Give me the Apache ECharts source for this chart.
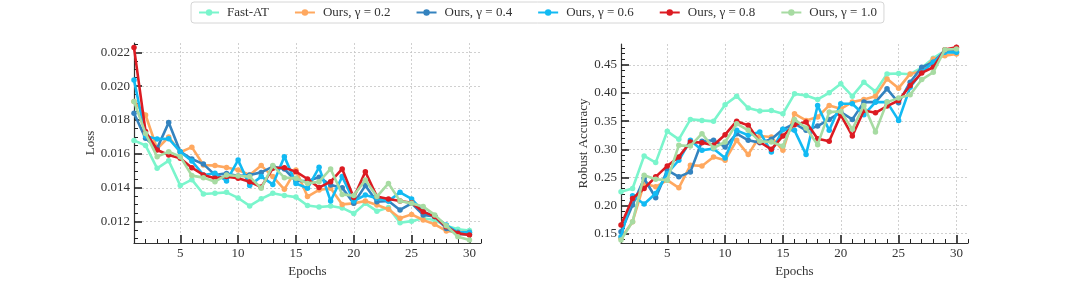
<!DOCTYPE html>
<html><head><meta charset="utf-8">
<script src="https://cdn.jsdelivr.net/npm/echarts@6/dist/echarts.min.js"></script>
<style>html,body{margin:0;padding:0;background:#fff}#c{width:1075px;height:283px}</style>
</head><body><div id="c"></div>
<script>
const epochs = [1,2,3,4,5,6,7,8,9,10,11,12,13,14,15,16,17,18,19,20,21,22,23,24,25,26,27,28,29,30];
const seriesNames = ['Fast-AT','Ours, γ = 0.2','Ours, γ = 0.4','Ours, γ = 0.6','Ours, γ = 0.8','Ours, γ = 1.0'];
const seriesColors = ['#7af5cc','#ffa85f','#3483bf','#12baf3','#dc1b22','#a7dba2'];

const lossFastAT = [0.0168,0.0165,0.01515,0.0156,0.01413,0.01448,0.01363,0.01368,0.01373,0.0134,0.01293,0.01335,0.01368,0.01355,0.01345,0.01295,0.01287,0.01292,0.01281,0.01248,0.01308,0.01262,0.01283,0.01194,0.01203,0.0122,0.0121,0.01176,0.01155,0.01148];
const lossG02 = [0.0191,0.0183,0.0163,0.0170,0.0161,0.0164,0.01535,0.01531,0.0152,0.01505,0.01476,0.01531,0.01466,0.01391,0.01505,0.01348,0.01387,0.01397,0.01302,0.01308,0.01322,0.01298,0.01273,0.0122,0.01243,0.0121,0.01184,0.01145,0.01138,0.01138];
const lossG04 = [0.0184,0.01692,0.01633,0.01785,0.01613,0.0157,0.0154,0.01476,0.01485,0.0147,0.01476,0.01491,0.01525,0.01511,0.0144,0.0144,0.01462,0.01417,0.0140,0.01308,0.01413,0.01318,0.01322,0.01269,0.01308,0.0124,0.0123,0.0116,0.01127,0.01125];
const lossG06 = [0.02037,0.01706,0.01688,0.0169,0.01613,0.01558,0.01476,0.01486,0.0144,0.01564,0.01413,0.01466,0.0142,0.01584,0.01426,0.01397,0.01521,0.01322,0.01466,0.01322,0.01357,0.01338,0.01322,0.01373,0.01334,0.01259,0.0123,0.0118,0.01137,0.01137];
const lossG08 = [0.02228,0.01732,0.01623,0.01594,0.01574,0.01519,0.01476,0.01456,0.01466,0.01456,0.01436,0.01405,0.01515,0.01519,0.01495,0.01452,0.01401,0.01436,0.01511,0.01342,0.01495,0.01348,0.01334,0.01322,0.01312,0.01259,0.0123,0.0117,0.01131,0.01121];
const lossG10 = [0.0191,0.0172,0.01584,0.01613,0.01584,0.01472,0.0146,0.01436,0.01476,0.0147,0.01466,0.01397,0.01531,0.0146,0.01456,0.01426,0.01436,0.01511,0.01361,0.01354,0.01446,0.01348,0.01426,0.01322,0.01308,0.01289,0.0124,0.01176,0.01111,0.01092];

const accFastAT = [0.2245,0.2304,0.2883,0.2764,0.332,0.3178,0.3532,0.3514,0.3497,0.3792,0.3945,0.3733,0.368,0.3691,0.3632,0.3986,0.3957,0.3886,0.4004,0.4164,0.3945,0.4193,0.4028,0.4341,0.4347,0.4335,0.445,0.462,0.475,0.472];
const accG02 = [0.142,0.1714,0.2393,0.2334,0.2452,0.2316,0.2717,0.2705,0.2865,0.2806,0.316,0.2906,0.3237,0.3219,0.2983,0.3632,0.3514,0.3573,0.378,0.3721,0.3839,0.3886,0.3945,0.4252,0.4087,0.4341,0.4382,0.4606,0.4665,0.4695];
const accG04 = [0.1537,0.2009,0.2481,0.2139,0.2629,0.2511,0.2599,0.3142,0.316,0.3042,0.3278,0.316,0.3119,0.3178,0.3355,0.3455,0.3337,0.3414,0.3532,0.3662,0.3532,0.3839,0.3839,0.4075,0.3827,0.4193,0.4459,0.4547,0.4754,0.4736];
const accG06 = [0.1448,0.2174,0.2027,0.2215,0.257,0.2806,0.316,0.2983,0.3012,0.2847,0.3337,0.3249,0.3308,0.2953,0.3355,0.3337,0.2906,0.378,0.3337,0.3809,0.3809,0.3614,0.3839,0.3839,0.3514,0.4104,0.437,0.4547,0.4724,0.4724];
const accG08 = [0.1655,0.2127,0.2304,0.2511,0.2705,0.2865,0.313,0.3119,0.3071,0.326,0.35,0.3426,0.313,0.3,0.3237,0.3438,0.3485,0.3189,0.3142,0.3614,0.3237,0.3691,0.365,0.3768,0.3868,0.4134,0.4358,0.4459,0.4772,0.4813];
const accG10 = [0.1389,0.1714,0.254,0.2469,0.2452,0.3071,0.306,0.3278,0.3024,0.313,0.3455,0.3337,0.3142,0.313,0.306,0.3532,0.3378,0.3083,0.3662,0.3674,0.3355,0.378,0.3308,0.3839,0.391,0.3969,0.424,0.437,0.4772,0.4783];

const epochTicks = [5,10,15,20,25,30];
const lossTicks = [0.012,0.014,0.016,0.018,0.020,0.022];
const accTicks = [0.15,0.20,0.25,0.30,0.35,0.40,0.45];

const lossSeries = [lossFastAT,lossG02,lossG04,lossG06,lossG08,lossG10];
const accSeries = [accFastAT,accG02,accG04,accG06,accG08,accG10];

function range(a, b, step, skip){
  const out = [];
  const n = Math.round((b - a) / step);
  for (let i = 0; i <= n; i++) {
    const v = +(a + i * step).toFixed(6);
    if (!skip || Math.abs(Math.round(v / skip) * skip - v) > step / 10) out.push(v);
  }
  return out;
}
const epochMinor = range(1, 31, 1, 5);
const lossMinor = range(0.011, 0.0225, 0.0005, 0.002);
const accMinor = range(0.14, 0.48, 0.01, 0.05);

const FONT = 'Liberation Serif';
const TXT = '#333';
const labelStyle = {fontFamily: FONT, fontSize: 13, color: TXT};
const gridLine = {show: true, lineStyle: {color: '#c4c4c4', type: [2, 2], width: 0.8}};

function mainX(gi){
  return {type:'value', gridIndex:gi, min:1, max:31, position:'bottom',
    axisLine:{show:true, onZero:false, lineStyle:{color:'#333', width:1.2}},
    axisTick:{show:true, inside:true, length:8, customValues:epochTicks, lineStyle:{color:'#222', width:1.6}},
    axisLabel:{show:true, customValues:epochTicks, margin:4, ...labelStyle},
    splitLine:gridLine,
    name:'Epochs', nameLocation:'middle', nameGap:18, nameTextStyle:{...labelStyle}};
}
function minorX(gi){
  return {type:'value', gridIndex:gi, min:1, max:31, position:'bottom',
    axisLine:{show:false, onZero:false},
    axisTick:{show:true, inside:true, length:4, customValues:epochMinor, lineStyle:{color:'#222', width:1}},
    axisLabel:{show:false}, splitLine:{show:false}};
}
function mainY(gi, min, max, ticks, minor, name, digits, gap){
  return [{type:'value', gridIndex:gi, min:min, max:max, position:'left',
    axisLine:{show:true, onZero:false, lineStyle:{color:'#333', width:1.2}},
    axisTick:{show:true, inside:true, length:8, customValues:ticks, lineStyle:{color:'#222', width:1.6}},
    axisLabel:{show:true, customValues:ticks, margin:4, formatter:v=>v.toFixed(digits), ...labelStyle},
    splitLine:gridLine,
    name:name, nameLocation:'middle', nameGap:gap, nameRotate:90, nameTextStyle:{...labelStyle}},
   {type:'value', gridIndex:gi, min:min, max:max, position:'left',
    axisLine:{show:false, onZero:false},
    axisTick:{show:true, inside:true, length:4, customValues:minor, lineStyle:{color:'#222', width:1}},
    axisLabel:{show:false}, splitLine:{show:false}}];
}

const series = [];
[lossSeries, accSeries].forEach((group, gi) => {
  group.forEach((vals, si) => {
    series.push({
      type:'line', name:seriesNames[si], xAxisIndex:gi*2, yAxisIndex:gi*2,
      data: epochs.map((e, i) => [e, vals[i]]),
      symbol:'circle', symbolSize:5.5, showSymbol:true,
      lineStyle:{width:2.6, color:seriesColors[si]},
      itemStyle:{color:seriesColors[si]},
      z: 2 + si
    });
  });
});

const chart = echarts.init(document.getElementById('c'), null, {renderer:'canvas'});
chart.setOption({
  animation:false,
  backgroundColor:'#fff',
  legend:{data:seriesNames, top:2, left:'center', itemWidth:20, itemHeight:8, itemGap:25,
    padding:[4,7], borderColor:'#d6d6d6', borderWidth:1, borderRadius:3,
    textStyle:{...labelStyle, padding:[0,0,0,3]}},
  grid:[{left:134, top:43, width:347, height:200},{left:621, top:44, width:347, height:199}],
  xAxis:[mainX(0), minorX(0), mainX(1), minorX(1)],
  yAxis:[...mainY(0, 0.01074, 0.02255, lossTicks, lossMinor, 'Loss', 3, 36),
         ...mainY(1, 0.1335, 0.4872, accTicks, accMinor, 'Robust Accuracy', 2, 30)],
  series:series
});
</script></body></html>
